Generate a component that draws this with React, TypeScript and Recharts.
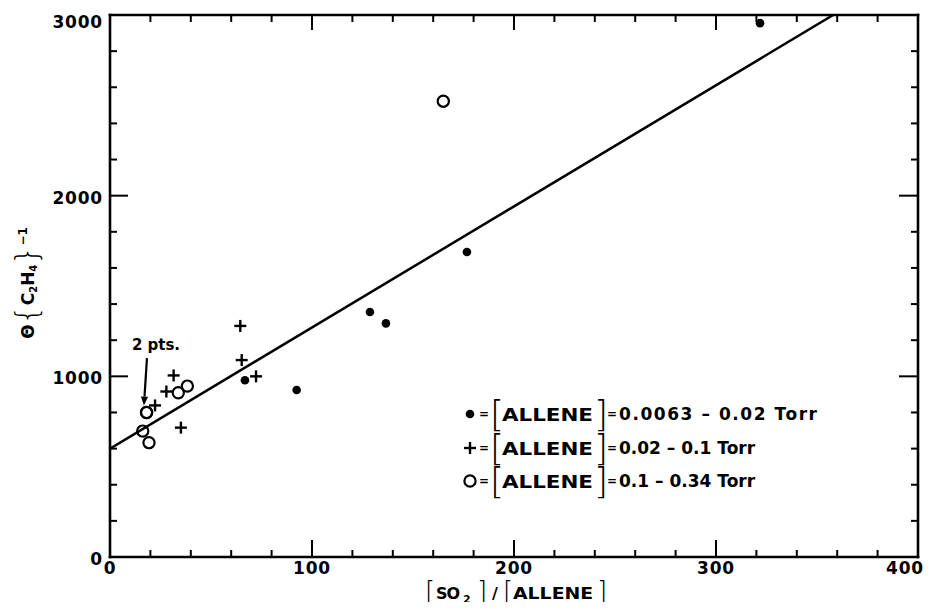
import React from 'react';
import { ComposedChart, Scatter, XAxis, YAxis, ReferenceLine } from 'recharts';

// [ALLENE] = 0.0063 – 0.02 Torr  (filled circles)
const lowRatio = [66.8, 92.4, 128.7, 136.6, 176.7, 321.8];
const lowPhiInv = [978, 924, 1356, 1293, 1688, 2955];

// [ALLENE] = 0.02 – 0.1 Torr  (crosses)
const midRatio = [22.3, 27.9, 31.5, 35.1, 64.5, 65.2, 72.3];
const midPhiInv = [839, 916, 1005, 716, 1279, 1090, 1000];

// [ALLENE] = 0.1 – 0.34 Torr  (open circles; the first two coincide)
const highRatio = [18.1, 18.1, 16.2, 19.3, 33.8, 38.3, 165.0];
const highPhiInv = [800, 800, 697, 633, 909, 946, 2523];

// straight-line fit through all points
const fitRatio = [0, 358];
const fitPhiInv = [600, 3000];

// "2 pts." pointer, in data units
const pointerFrom = { x: 18.3, y: 1101 };
const pointerTo = { x: 16.8, y: 838 };

const xTicks = [0, 20, 40, 60, 80, 100, 120, 140, 160, 180, 200, 220, 240, 260, 280, 300, 320, 340, 360, 380, 400];
const yTicks = [0, 200, 400, 600, 800, 1000, 1200, 1400, 1600, 1800, 2000, 2200, 2400, 2600, 2800, 3000];
const xMajor = [0, 100, 200, 300, 400];
const yMajor = [0, 1000, 2000, 3000];
const X_MAX = 400;
const Y_MAX = 3000;

const legendRanges = ['0.0063 – 0.02 Torr', '0.02 – 0.1 Torr', '0.1 – 0.34 Torr'];

const toPoints = (xs: number[], ys: number[]) => xs.map((x, i) => ({ x, y: ys[i] }));
const lowData = toPoints(lowRatio, lowPhiInv);
const midData = toPoints(midRatio, midPhiInv);
const highData = toPoints(highRatio, highPhiInv);
const fitData = toPoints(fitRatio, fitPhiInv);

const FONT = '"DejaVu Sans", sans-serif';
const INK = '#000';

const FilledDot = ({ cx, cy }: any) => <circle cx={cx} cy={cy} r={4.3} fill={INK} />;
const Cross = ({ cx, cy }: any) => (
  <g stroke={INK} strokeWidth={2.4}>
    <line x1={cx - 6} y1={cy} x2={cx + 6} y2={cy} />
    <line x1={cx} y1={cy - 6} x2={cx} y2={cy + 6} />
  </g>
);
const Ring = ({ cx, cy }: any) => (
  <circle cx={cx} cy={cy} r={5.6} fill="none" stroke={INK} strokeWidth={2.2} />
);
const NoShape = () => <g />;

const tickText = {
  fontFamily: FONT,
  fontWeight: 700,
  fontSize: 17,
  fill: INK,
  letterSpacing: 0.8,
};

const BottomTick = (p: any) => {
  const { x, y, payload } = p;
  const v = payload.value;
  const major = xMajor.includes(v);
  const last = v === X_MAX;
  return (
    <g>
      {v > 0 && v < X_MAX && (
        <line x1={x} y1={y} x2={x} y2={y - (major ? 17 : 7)} stroke={INK} strokeWidth={2} />
      )}
      {major && (
        <text
          x={last ? x + 6 : x}
          y={y + 11}
          textAnchor={last ? 'end' : 'middle'}
          dominantBaseline="central"
          {...tickText}
        >
          {v}
        </text>
      )}
    </g>
  );
};

const TopTick = (p: any) => {
  const { x, y, payload } = p;
  const v = payload.value;
  const major = xMajor.includes(v);
  if (v <= 0 || v >= X_MAX) return <g />;
  return <line x1={x} y1={y} x2={x} y2={y + (major ? 15 : 7)} stroke={INK} strokeWidth={2} />;
};

const LeftTick = (p: any) => {
  const { x, y, payload } = p;
  const v = payload.value;
  const major = yMajor.includes(v);
  return (
    <g>
      {v > 0 && v < Y_MAX && (
        <line x1={x} y1={y} x2={x + (major ? 18 : 7)} y2={y} stroke={INK} strokeWidth={2} />
      )}
      {major && (
        <text
          x={x - 7}
          y={y + (v === Y_MAX ? 7 : 2)}
          textAnchor="end"
          dominantBaseline="central"
          {...tickText}
        >
          {v}
        </text>
      )}
    </g>
  );
};

const RightTick = (p: any) => {
  const { x, y, payload } = p;
  const v = payload.value;
  const major = yMajor.includes(v);
  if (v <= 0 || v >= Y_MAX) return <g />;
  return <line x1={x} y1={y} x2={x - (major ? 19 : 7)} y2={y} stroke={INK} strokeWidth={2} />;
};

const Pointer = (p: any) => {
  const { x1, y1, x2, y2 } = p;
  const ang = Math.atan2(y2 - y1, x2 - x1);
  const L = 9;
  const W = 3.6;
  const bx = x2 - L * Math.cos(ang);
  const by = y2 - L * Math.sin(ang);
  const px = -Math.sin(ang) * W;
  const py = Math.cos(ang) * W;
  return (
    <g>
      <line x1={x1} y1={y1} x2={bx} y2={by} stroke={INK} strokeWidth={2.2} />
      <polygon points={`${x2},${y2} ${bx + px},${by + py} ${bx - px},${by - py}`} fill={INK} />
    </g>
  );
};

const axisLine = { stroke: INK, strokeWidth: 2.6, strokeLinecap: 'square' as const };

const boldText = { fontFamily: FONT, fontWeight: 700, fill: INK };
const bracketText = { fontFamily: FONT, fontWeight: 200, fill: INK };

const legendSymbols = [FilledDot, Cross, Ring];
const legendRowY = [406, 440, 473];

// wide caps word, stretched horizontally
const WideWord = ({ x, y, size, sx, children }: any) => (
  <text transform={`translate(${x}, ${y}) scale(${sx}, 1)`} x={0} y={0} fontSize={size} {...boldText}>
    {children}
  </text>
);

export default function App() {
  return (
    <div style={{ position: 'relative', width: 917, height: 594, background: '#fff' }}>
      <ComposedChart
        width={917}
        height={594}
        margin={{ top: 0, right: 0, bottom: 5, left: 42 }}
      >
        <XAxis
          xAxisId="bottom"
          type="number"
          dataKey="x"
          orientation="bottom"
          domain={[0, X_MAX]}
          ticks={xTicks}
          interval={0}
          allowDataOverflow
          height={40}
          tickSize={0}
          tickMargin={0}
          tickLine={false}
          axisLine={axisLine}
          tick={(p: any) => <BottomTick {...p} />}
        />
        <XAxis
          xAxisId="top"
          type="number"
          dataKey="x"
          orientation="top"
          domain={[0, X_MAX]}
          ticks={xTicks}
          interval={0}
          allowDataOverflow
          height={7}
          tickSize={0}
          tickMargin={0}
          tickLine={false}
          axisLine={axisLine}
          tick={(p: any) => <TopTick {...p} />}
        />
        <YAxis
          yAxisId="left"
          type="number"
          dataKey="y"
          orientation="left"
          domain={[0, Y_MAX]}
          ticks={yTicks}
          interval={0}
          allowDataOverflow
          width={60}
          tickSize={0}
          tickMargin={0}
          tickLine={false}
          axisLine={axisLine}
          tick={(p: any) => <LeftTick {...p} />}
        />
        <YAxis
          yAxisId="right"
          type="number"
          dataKey="y"
          orientation="right"
          domain={[0, Y_MAX]}
          ticks={yTicks}
          interval={0}
          allowDataOverflow
          width={7}
          tickSize={0}
          tickMargin={0}
          tickLine={false}
          axisLine={axisLine}
          tick={(p: any) => <RightTick {...p} />}
        />

        <Scatter
          xAxisId="bottom"
          yAxisId="left"
          data={fitData}
          line={{ stroke: INK, strokeWidth: 2.5 }}
          shape={NoShape}
          isAnimationActive={false}
        />
        <Scatter
          xAxisId="bottom"
          yAxisId="left"
          data={lowData}
          shape={(p: any) => <FilledDot {...p} />}
          isAnimationActive={false}
        />
        <Scatter
          xAxisId="bottom"
          yAxisId="left"
          data={midData}
          shape={(p: any) => <Cross {...p} />}
          isAnimationActive={false}
        />
        <Scatter
          xAxisId="bottom"
          yAxisId="left"
          data={highData}
          shape={(p: any) => <Ring {...p} />}
          isAnimationActive={false}
        />
        <ReferenceLine
          xAxisId="bottom"
          yAxisId="left"
          segment={[pointerFrom, pointerTo]}
          ifOverflow="visible"
          shape={(p: any) => <Pointer {...p} />}
        />
      </ComposedChart>

      <svg
        width={917}
        height={602}
        style={{ position: 'absolute', left: 0, top: 0, pointerEvents: 'none', overflow: 'visible' }}
      >
        {/* annotation */}
        <text x={124} y={342} fontSize={15} textLength={48} {...boldText}>
          2 pts.
        </text>

        {/* key */}
        {legendRowY.map((cy, i) => {
          const Sym = legendSymbols[i];
          return (
            <g key={i}>
              <Sym cx={462} cy={cy} />
              <text x={476} y={cy} fontSize={12} textAnchor="middle" dominantBaseline="central" {...boldText}>
                =
              </text>
              <text x={489} y={cy + 11.5} fontSize={36} textAnchor="middle" {...bracketText}>
                [
              </text>
              <WideWord x={494} y={cy + 6.5} size={18} sx={1.19}>
                ALLENE
              </WideWord>
              <text x={593} y={cy + 11.5} fontSize={36} textAnchor="middle" {...bracketText}>
                ]
              </text>
              <text x={604} y={cy} fontSize={12} textAnchor="middle" dominantBaseline="central" {...boldText}>
                =
              </text>
              {i === 0 ? (
                <text x={611} y={cy + 6} fontSize={17} textLength={198} {...boldText}>
                  {legendRanges[i]}
                </text>
              ) : (
                <text x={611} y={cy + 6} fontSize={17} {...boldText}>
                  {legendRanges[i]}
                </text>
              )}
            </g>
          );
        })}

        {/* x-axis title: [SO2]/[ALLENE] */}
        <g>
          <text x={422} y={591.5} fontSize={26} textAnchor="middle" {...bracketText}>[</text>
          <text x={428} y={591} fontSize={16} textLength={24} {...boldText}>SO</text>
          <text x={455} y={595} fontSize={11} {...boldText}>2</text>
          <text x={474} y={591.5} fontSize={26} textAnchor="middle" {...bracketText}>]</text>
          <text x={487} y={591} fontSize={16} textAnchor="middle" {...boldText}>/</text>
          <text x={500} y={591.5} fontSize={26} textAnchor="middle" {...bracketText}>[</text>
          <WideWord x={505} y={591} size={16} sx={1.18}>ALLENE</WideWord>
          <text x={594} y={591.5} fontSize={26} textAnchor="middle" {...bracketText}>]</text>
        </g>

        {/* y-axis title: Θ{C2H4}^-1 */}
        <g transform="translate(26, 275) rotate(-90)">
          <text x={0} y={0} textAnchor="middle" fontSize={17} {...boldText}>
            <tspan>Θ</tspan>
            <tspan fontSize={30} fontWeight={200} dy={3}>{'{'}</tspan>
            <tspan dy={-3}>C</tspan>
            <tspan fontSize={10} dy={3}>2</tspan>
            <tspan dy={-3}>H</tspan>
            <tspan fontSize={10} dy={3}>4</tspan>
            <tspan fontSize={30} fontWeight={200} dy={0}>{'}'}</tspan>
            <tspan fontSize={12} dy={-10}>−1</tspan>
          </text>
        </g>
      </svg>
    </div>
  );
}
